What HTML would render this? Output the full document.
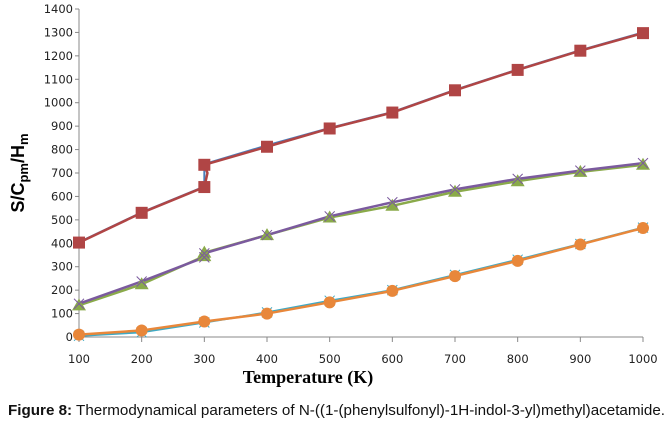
<!DOCTYPE html>
<html><head><meta charset="utf-8"><style>
body{margin:0;background:#fff;width:671px;height:422px;overflow:hidden}
svg text{font-family:"Liberation Sans",sans-serif}
svg text.tk{font-family:"DejaVu Sans",sans-serif}
svg text.serif{font-family:"Liberation Serif",serif}
</style></head><body>
<svg width="671" height="422" viewBox="0 0 671 422">
<g stroke="#888" stroke-width="1">
<line x1="79" y1="9" x2="79" y2="337"/>
<line x1="79" y1="337" x2="643" y2="337"/>
</g>
<g id="yt" font-size="11.5" fill="#222" text-anchor="end"></g>
<g id="xt" font-size="11.5" fill="#222" text-anchor="middle"></g>
<g id="ticks" stroke="#888"></g>
<g id="series"></g>
<text class="serif" x="308" y="383" text-anchor="middle" font-weight="bold" font-size="18">Temperature (K)</text>
<text transform="translate(24,173) rotate(-90)" text-anchor="middle" font-weight="bold" font-size="18">S/C<tspan font-size="13" dy="4">pm</tspan><tspan dy="-4">/H</tspan><tspan font-size="13" dy="4">m</tspan></text>
<text x="8" y="415" font-size="15" fill="#111" textLength="657" lengthAdjust="spacingAndGlyphs"><tspan font-weight="bold">Figure 8:</tspan> Thermodynamical parameters of N-((1-(phenylsulfonyl)-1H-indol-3-yl)methyl)acetamide.</text>
</svg>
<script>
const X=t=>79+(t-100)*0.62667, Y=v=>337-v*0.23429;
const ns="http://www.w3.org/2000/svg";
function el(p,n,a){const e=document.createElementNS(ns,n);for(const k in a)e.setAttribute(k,a[k]);p.appendChild(e);return e;}
const yt=document.getElementById('yt'),xt=document.getElementById('xt'),tk=document.getElementById('ticks');
for(let v=0;v<=1400;v+=100){const t=el(yt,'text',{x:73,y:Y(v)+4,class:'tk'});t.textContent=v;el(tk,'line',{x1:75,x2:79,y1:Y(v),y2:Y(v)});}
for(let t=100;t<=1000;t+=100){const e=el(xt,'text',{x:X(t),y:363,class:'tk'});e.textContent=t;el(tk,'line',{x1:X(t),x2:X(t),y1:337,y2:342});}
const S=document.getElementById('series');
function line(pts,col,w){el(S,'polyline',{points:pts.map(p=>X(p[0])+','+Y(p[1])).join(' '),fill:'none',stroke:col,'stroke-width':w,'stroke-linejoin':'round'});}
const blue=[[100,405],[200,532],[300,642],[300,738],[400,818],[500,892],[600,960],[700,1055],[800,1142],[900,1224],[1000,1300]];
const red=[[100,403],[200,530],[300,640],[305,700],[300,735],[400,812],[500,890],[600,958],[700,1053],[800,1140],[900,1222],[1000,1297]];
const green=[[100,135],[200,225],[300,345],[300,360],[400,435],[500,510],[600,560],[700,620],[800,665],[900,705],[1000,735]];
const purple=[[100,142],[200,237],[300,340],[300,357],[400,435],[500,515],[600,575],[700,630],[800,675],[900,710],[1000,742]];
const cyan=[[100,5],[200,20],[300,62],[400,105],[500,155],[600,200],[700,265],[800,330],[900,397],[1000,467]];
const orange=[[100,10],[200,28],[300,66],[400,100],[500,148],[600,197],[700,260],[800,325],[900,395],[1000,465]];
line(blue,'#4a7ebb',2);
line(green,'#8aaa4a',2.5);
line(purple,'#7b5a9e',2.5);
line(cyan,'#3fa9c4',2);
line(orange,'#e8873a',2.5);
line(red,'#b04545',2.5);
green.forEach(p=>{const x=X(p[0]),y=Y(p[1]);el(S,'polygon',{points:`${x},${y-7} ${x-7},${y+5} ${x+7},${y+5}`,fill:'#8aaa4a'});});
purple.forEach(p=>{const x=X(p[0]),y=Y(p[1]);el(S,'path',{d:`M${x-5},${y-5}L${x+5},${y+5}M${x-5},${y+5}L${x+5},${y-5}`,stroke:'#7b5a9e','stroke-width':1});});
cyan.forEach(p=>{const x=X(p[0]),y=Y(p[1]);el(S,'path',{d:`M${x-5},${y-5}L${x+5},${y+5}M${x-5},${y+5}L${x+5},${y-5}`,stroke:'#3fa9c4','stroke-width':1});});
orange.forEach(p=>el(S,'circle',{cx:X(p[0]),cy:Y(p[1]),r:6,fill:'#e8873a'}));
red.filter((p,i)=>i!=3).forEach(p=>el(S,'rect',{x:X(p[0])-6,y:Y(p[1])-6,width:12,height:12,fill:'#b04545'}));
</script>
</body></html>
